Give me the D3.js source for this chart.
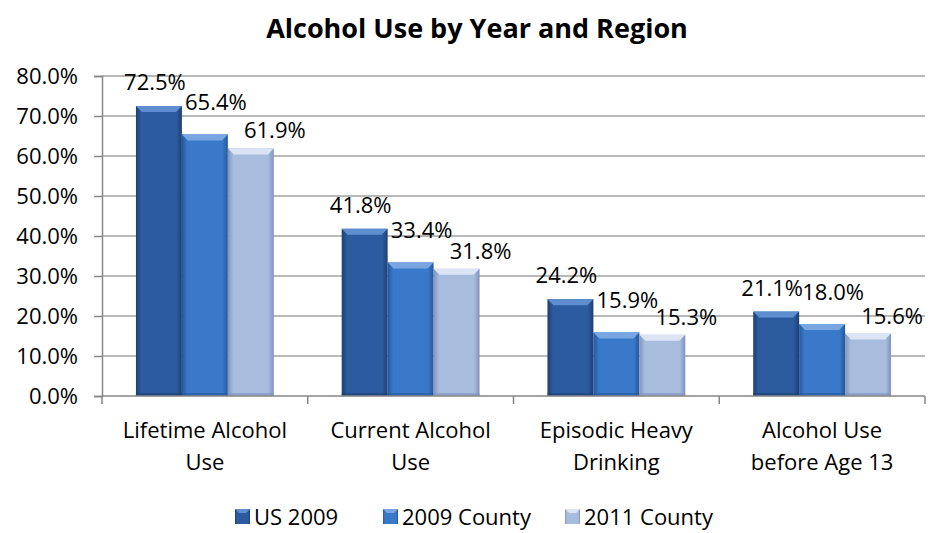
<!DOCTYPE html>
<html>
<head>
<meta charset="utf-8">
<script src="https://cdn.jsdelivr.net/npm/d3@7"></script>
<style>
  body { margin: 0; background: #fff; }
  svg { display: block; }
  text { font-family: "Open Sans", sans-serif; fill: #000; }
</style>
</head>
<body>
<svg width="947" height="533"></svg>
<script>
var categories = [["Lifetime Alcohol", "Use"], ["Current Alcohol", "Use"], ["Episodic Heavy", "Drinking"], ["Alcohol Use", "before Age 13"]];
var seriesNames = ["US 2009", "2009 County", "2011 County"];
var us2009 = [72.5, 41.8, 24.2, 21.1];
var county2009 = [65.4, 33.4, 15.9, 18.0];
var county2011 = [61.9, 31.8, 15.3, 15.6];
var yTicks = [0, 10, 20, 30, 40, 50, 60, 70, 80];

var values = [us2009, county2009, county2011];
var colors = [
  {edge: "#1d3f73", mid: "#2c5c9f", top: "#5f8ed0"},
  {edge: "#24579c", mid: "#3a79c9", top: "#79a6e2"},
  {edge: "#7f93bd", mid: "#a8bcde", top: "#dbe4f4"}
];
// label nudges, Excel spreads them out a bit
var labelDx = [-4, 11, 24], labelDy = [-16, -24, -10];

var svg = d3.select("svg"),
margin = {top: 76, right: 22, bottom: 137, left: 102},
width = 947 - margin.left - margin.right,
height = 533 - margin.top - margin.bottom;

var x0 = d3.scaleBand().domain(d3.range(categories.length)).range([0, width])
  .paddingInner(0.33).paddingOuter(0.165);
var x1 = d3.scaleBand().domain(d3.range(seriesNames.length)).range([0, x0.bandwidth()]);
var y = d3.scaleLinear().domain([0, 80]).range([height, 0]);

var defs = svg.append("defs");
colors.forEach(function(c, i) {
  var g = defs.append("linearGradient").attr("id", "grad" + i)
    .attr("x1", "0").attr("x2", "1").attr("y1", "0").attr("y2", "0");
  g.append("stop").attr("offset", "0").attr("stop-color", c.edge);
  g.append("stop").attr("offset", "0.12").attr("stop-color", c.mid);
  g.append("stop").attr("offset", "0.88").attr("stop-color", c.mid);
  g.append("stop").attr("offset", "1").attr("stop-color", c.edge);
});

svg.append("text")
  .attr("x", 477).attr("y", 38)
  .attr("text-anchor", "middle")
  .style("font-size", "27px").style("font-weight", "bold")
  .text("Alcohol Use by Year and Region");

var g = svg.append("g")
  .attr("transform", "translate(" + margin.left + "," + margin.top + ")");

// gridlines
g.selectAll(".grid").data(yTicks.slice(1)).enter().append("line")
  .attr("x1", 0).attr("x2", width)
  .attr("y1", function(d) { return y(d); }).attr("y2", function(d) { return y(d); })
  .attr("stroke", "#a0a0a0").attr("stroke-width", 1.5);

// y axis
var yAxis = g.append("g")
  .call(d3.axisLeft(y).tickValues(yTicks).tickSize(8).tickPadding(16)
    .tickFormat(function(d) { return d.toFixed(1) + "%"; }));
yAxis.select(".domain").attr("stroke", "#868686").attr("stroke-width", 1.5);
yAxis.selectAll(".tick line").attr("stroke", "#868686").attr("stroke-width", 1.5);
yAxis.selectAll(".tick text").style("font-size", "22px").style("font-family", "'Open Sans', sans-serif").attr("fill", "#000");

// bars
var groups = g.selectAll(".grp").data(categories).enter().append("g")
  .attr("transform", function(d, i) { return "translate(" + x0(i) + ",0)"; });

groups.each(function(cat, ci) {
  var gg = d3.select(this);
  values.forEach(function(vals, si) {
    var v = vals[ci], bx = x1(si), bw = x1.bandwidth(), by = y(v), bh = height - y(v);
    gg.append("rect")
      .attr("x", bx).attr("y", by).attr("width", bw).attr("height", bh)
      .attr("fill", "url(#grad" + si + ")");
    var b = 6;
    gg.append("path")
      .attr("d", "M" + bx + "," + by + "L" + (bx + bw) + "," + by + "L" + (bx + bw - b) + "," + (by + b) +
        "L" + (bx + b) + "," + (by + b) + "Z")
      .attr("fill", colors[si].top);
    gg.append("rect")
      .attr("x", bx).attr("y", height - 3).attr("width", bw).attr("height", 3)
      .attr("fill", colors[si].edge).attr("opacity", 0.6);
  });
});

// x axis
g.append("line").attr("x1", 0).attr("x2", width).attr("y1", height).attr("y2", height)
  .attr("stroke", "#868686").attr("stroke-width", 1.5);
g.selectAll(".xtick").data(d3.range(categories.length + 1)).enter().append("line")
  .attr("x1", function(d) { return d * x0.step(); }).attr("x2", function(d) { return d * x0.step(); })
  .attr("y1", height).attr("y2", height + 8)
  .attr("stroke", "#868686").attr("stroke-width", 1.5);

groups.append("text")
  .attr("x", x0.bandwidth() / 2)
  .attr("y", height + 42)
  .attr("text-anchor", "middle")
  .style("font-size", "22px")
  .selectAll("tspan").data(function(d) { return d; }).enter().append("tspan")
  .attr("x", x0.bandwidth() / 2)
  .attr("dy", function(d, i) { return i === 0 ? 0 : 32; })
  .text(function(d) { return d; });

// value labels
groups.each(function(cat, ci) {
  var gg = d3.select(this);
  values.forEach(function(vals, si) {
    gg.append("text")
      .attr("x", x1(si) + x1.bandwidth() / 2 + labelDx[si])
      .attr("y", y(vals[ci]) + labelDy[si])
      .attr("text-anchor", "middle")
      .style("font-size", "22px")
      .text(vals[ci].toFixed(1) + "%");
  });
});

// legend
var legendX = [235, 383, 565];
var legend = svg.selectAll(".leg").data(seriesNames).enter().append("g")
  .attr("transform", function(d, i) { return "translate(" + legendX[i] + ",509)"; });
legend.append("rect").attr("width", 15).attr("height", 15)
  .attr("fill", function(d, i) { return "url(#grad" + i + ")"; });
legend.append("path").attr("d", "M0,0L15,0L11,4L4,4Z")
  .attr("fill", function(d, i) { return colors[i].top; });
legend.append("text").attr("x", 19).attr("y", 16)
  .style("font-size", "22px")
  .text(function(d) { return d; });
</script>
</body>
</html>
